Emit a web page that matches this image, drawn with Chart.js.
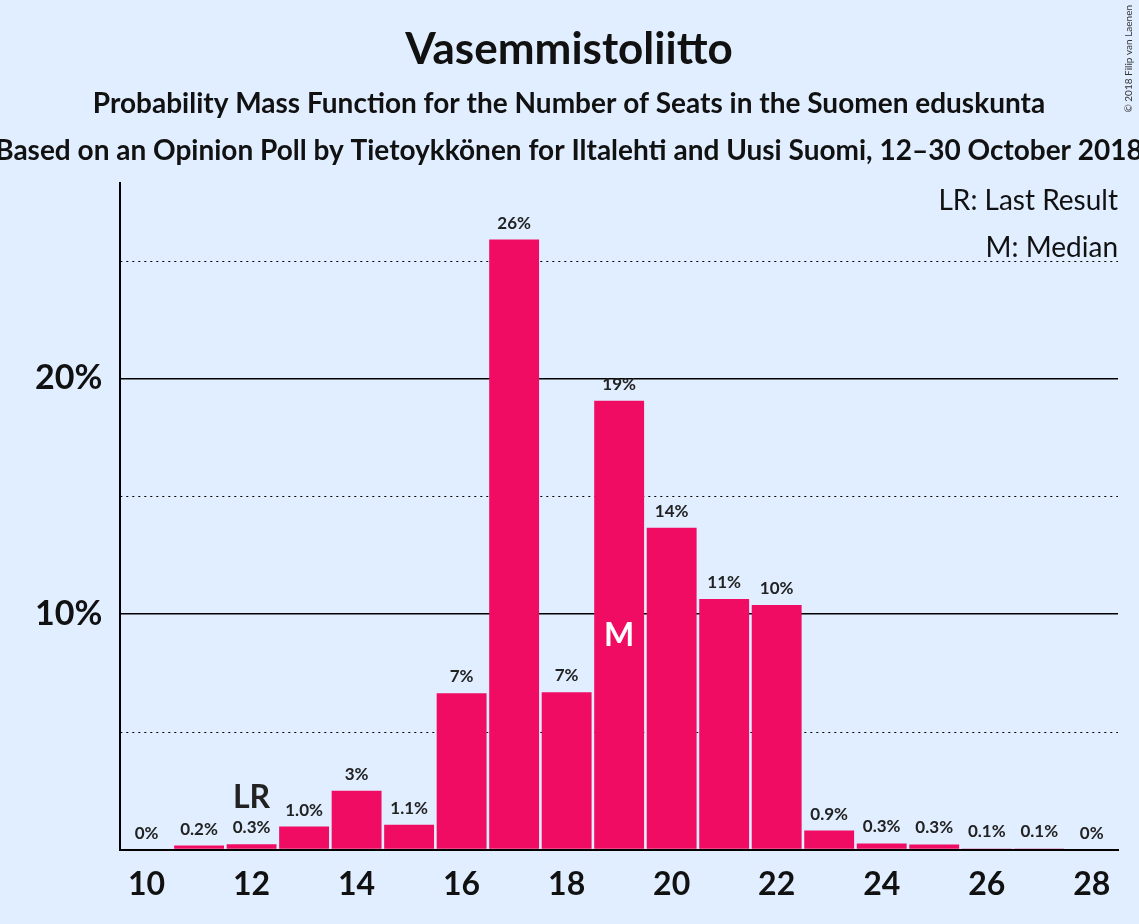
<!DOCTYPE html>
<html><head><meta charset="utf-8">
<script src="https://cdn.jsdelivr.net/npm/chart.js@4"></script>
<style>html,body{margin:0;padding:0;background:#e0eeff}#w{width:1139px;height:924px;position:relative}</style>
</head><body><div id="w"><canvas id="c" width="1139" height="924"></canvas></div>
<script>
const seats=['10','11','12','13','14','15','16','17','18','19','20','21','22','23','24','25','26','27','28'];
const probs=[0,0.17,0.23,0.98,2.5,1.06,6.64,25.9,6.68,19.06,13.66,10.64,10.38,0.81,0.26,0.22,0.05,0.05,0];
const valueLabels=['0%','0.2%','0.3%','1.0%','3%','1.1%','7%','26%','7%','19%','14%','11%','10%','0.9%','0.3%','0.3%','0.1%','0.1%','0%'];
const lastResult='12', median='19';
const dottedAt=[5,15,25];
const F='Lato, "Open Sans", sans-serif';
const dots={id:'dots',beforeDatasetsDraw(ch){
 const c=ch.ctx,y=ch.scales.y,a=ch.chartArea;c.save();c.strokeStyle='#000';c.lineWidth=1;c.setLineDash([2,4]);
 dottedAt.forEach(v=>{const p=Math.round(y.getPixelForValue(v))+0.5;c.beginPath();c.moveTo(a.left,p);c.lineTo(a.right,p);c.stroke();});
 c.restore();}};
const deco={id:'deco',afterDatasetsDraw(ch){
 const c=ch.ctx,m=ch.getDatasetMeta(0),y=ch.scales.y;
 c.save();c.textAlign='center';
 m.data.forEach((b,i)=>{c.fillStyle='#222';c.font='bold 17px '+F;c.textBaseline='bottom';
  let ty=Math.min(b.y,y.getPixelForValue(0))-8;c.fillText(valueLabels[i],b.x,ty);
  if(seats[i]===lastResult){c.font='bold 32px '+F;c.fillText('LR',b.x,ty-22);}
  if(seats[i]===median){c.fillStyle='#fff';c.font='bold 32px '+F;c.textBaseline='middle';c.fillText('M',b.x,y.getPixelForValue(9.1));}
 });
 c.fillStyle='#111';c.textBaseline='alphabetic';
 c.font='bold 44px '+F;c.fillText('Vasemmistoliitto',569,64);
 c.font='bold 28px '+F;c.fillText('Probability Mass Function for the Number of Seats in the Suomen eduskunta',569,113);
 c.fillText('Based on an Opinion Poll by Tietoykkönen for Iltalehti and Uusi Suomi, 12–30 October 2018',569,160);
 c.textAlign='right';c.font='28px '+F;c.fillText('LR: Last Result',1118,210);c.fillText('M: Median',1118,257);
 c.translate(1134,5);c.rotate(-Math.PI/2);c.font='10px '+F;c.fillStyle='#333';c.textAlign='right';c.textBaseline='bottom';c.fillText('© 2018 Filip van Laenen',0,0);
 c.restore();}};
new Chart(document.getElementById('c'),{type:'bar',
data:{labels:seats,datasets:[{data:probs,backgroundColor:'#f00c62',barPercentage:0.95,categoryPercentage:1}]},
options:{responsive:false,animation:false,layout:{padding:{top:183,right:21,left:17,bottom:12}},
plugins:{legend:{display:false},tooltip:{enabled:false}},
scales:{
 x:{grid:{display:false},border:{color:'#000',width:2},ticks:{color:'#111',font:{family:F,size:32,weight:'bold'},maxRotation:0,autoSkip:false,padding:8,callback:(v,i)=>i%2===0?seats[i]:''}},
 y:{min:0,max:28.3,border:{color:'#000',width:2},
  ticks:{stepSize:5,color:'#111',font:{family:F,size:34,weight:'bold'},padding:18,callback:v=>(v>0&&v%10===0)?v+'%':''},
  grid:{drawTicks:false,color:c=>(c.tick.value>0&&c.tick.value%10===0)?'#000':'rgba(0,0,0,0)',lineWidth:1.5}}
}},plugins:[dots,deco]});
</script></body></html>
